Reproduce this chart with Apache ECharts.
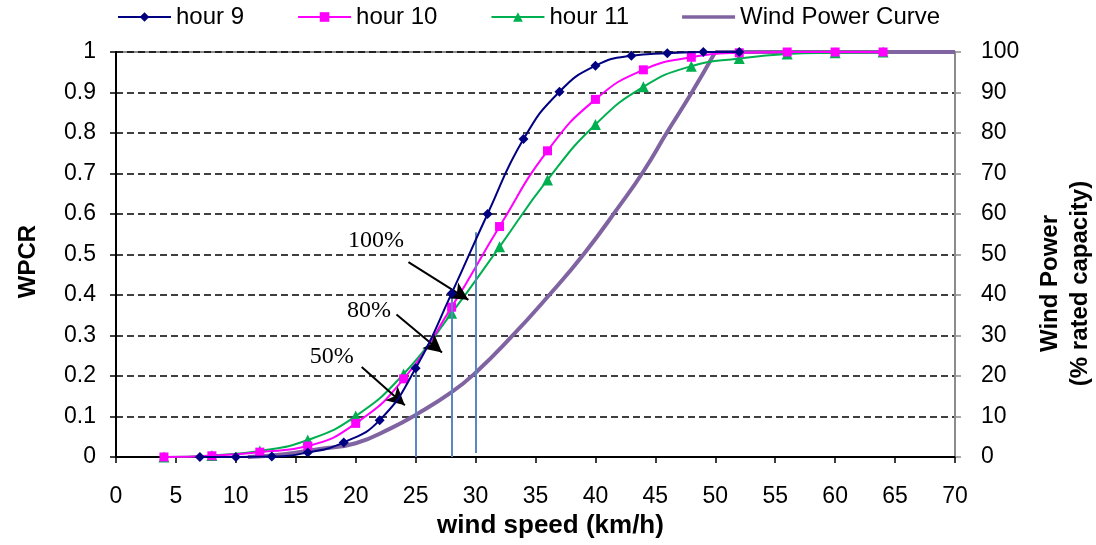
<!DOCTYPE html>
<html>
<head>
<meta charset="utf-8">
<script src="https://cdn.jsdelivr.net/npm/echarts@6/dist/echarts.min.js"></script>
<style>html,body{margin:0;padding:0;background:#fff}#c{width:1096px;height:545px}</style>
</head>
<body>
<div id="c"></div>
<script>
// ---- data ----
const hour9X = [7,10,13,16,19,22,25,28,31,34,37,40,43,46,49,52];
const hour9Y = [0,0,0.001,0.011,0.036,0.091,0.219,0.404,0.6,0.785,0.902,0.966,0.991,0.997,1.0,1.0];
const hour10X = [4,8,12,16,20,24,28,32,36,40,44,48,52,56,60,64];
const hour10Y = [0,0.003,0.012,0.027,0.083,0.193,0.37,0.569,0.756,0.883,0.956,0.987,0.998,1,1,1];
const hour11X = [4,8,12,16,20,24,28,32,36,40,44,48,52,56,60,64];
const hour11Y = [0,0.004,0.015,0.042,0.101,0.205,0.355,0.519,0.684,0.821,0.914,0.965,0.984,0.995,0.998,1];
// wind power curve (% rated capacity): rising part and rated (flat) part
const windRiseX = [11,14,17,20,23,25,28,30,33,36,39,42,44,46,48,50];
const windRiseY = [0,0.7,2,3.4,7.2,10.4,16,20.8,29.7,39.5,50,62,70.5,80.3,89.8,100];
const windRatedX = [50,70];
const windRatedY = [100,100];
// vertical reference lines: [x, yFrom, yTo]
const refLines = [[25,0,0.219],[28,0,0.404],[30,0.01,0.555]];
// annotation arrows: [label, labelX, labelY, fromX, fromY, toX, toY]
const arrows = [
  ['100%', 21.7, 0.533, 24.4, 0.481, 29.4, 0.388],
  ['80%',  21.1, 0.362, 23.4, 0.352, 27.2, 0.258],
  ['50%',  18.0, 0.248, 20.5, 0.222, 24.1, 0.128]
];
const legendNames = ['hour 9','hour 10','hour 11','Wind Power Curve'];

const zip = (xs, ys) => xs.map((x, i) => [x, ys[i]]);
const FONT = 'Liberation Sans, Arial, sans-serif';
const SERIF = 'Liberation Serif, Times New Roman, serif';
const PURPLE = '#8064A2';

const chart = echarts.init(document.getElementById('c'), null, {renderer: 'canvas'});
const option = {
  animation: false,
  backgroundColor: '#fff',
  textStyle: {fontFamily: FONT},
  legend: {
    data: legendNames.map(n => n === 'Wind Power Curve'
      ? {name: n, icon: 'path://M0,0L0,0M0,4.2L53,4.2L53,7.8L0,7.8ZM53,12L53,12'}
      : {name: n}),
    left: 112, top: 0,
    itemWidth: 53, itemHeight: 12, itemGap: 53,
    textStyle: {fontSize: 24, color: '#000', fontFamily: FONT}
  },
  grid: {left: 116, right: 141, top: 52, bottom: 88, show: true, borderColor: '#8c8c8c', borderWidth: 2, outerBoundsMode: 'none', containLabel: false},
  xAxis: {
    type: 'value', min: 0, max: 70, interval: 5,
    name: 'wind speed (km/h)', nameLocation: 'middle', nameGap: 56,
    nameTextStyle: {fontSize: 26, fontWeight: 'bold', color: '#000', fontFamily: FONT, padding: [0, 0, 0, 30]},
    axisLine: {show: true, lineStyle: {color: '#000', width: 2}},
    axisTick: {show: true, inside: false, length: 6, lineStyle: {color: '#000', width: 1.5}},
    axisLabel: {fontSize: 23, color: '#000', margin: 28, fontFamily: FONT},
    splitLine: {show: false}
  },
  yAxis: [
    {
      type: 'value', min: 0, max: 1, interval: 0.1,
      name: 'WPCR', nameLocation: 'middle', nameGap: 76, nameRotate: 90,
      nameTextStyle: {fontSize: 24, fontWeight: 'bold', color: '#000', fontFamily: FONT, padding: [0, 14, 0, 0]},
      axisLine: {show: true, lineStyle: {color: '#000', width: 2}},
      axisTick: {show: true, length: 6, lineStyle: {color: '#000', width: 1.5}},
      axisLabel: {fontSize: 23, color: '#000', margin: 20, fontFamily: FONT},
      splitLine: {show: true, lineStyle: {color: '#000', type: [7, 4], width: 1.5}}
    },
    {
      type: 'value', min: 0, max: 100, interval: 10, position: 'right',
      name: 'Wind Power\n(% rated capacity)', nameLocation: 'middle', nameGap: 80, nameRotate: 90,
      nameTextStyle: {fontSize: 24, fontWeight: 'bold', color: '#000', lineHeight: 30, fontFamily: FONT, padding: [0, 58, 0, 0]},
      axisLine: {show: true, lineStyle: {color: '#8c8c8c', width: 2}},
      axisTick: {show: true, length: 6, lineStyle: {color: '#8c8c8c', width: 1.5}},
      axisLabel: {fontSize: 23, color: '#000', margin: 26, fontFamily: FONT},
      splitLine: {show: false}
    }
  ],
  series: [
    {
      name: 'Wind Power Curve', type: 'line', yAxisIndex: 1, data: zip(windRiseX, windRiseY),
      smooth: true, showSymbol: false, symbol: 'none',
      lineStyle: {color: PURPLE, width: 4}, itemStyle: {color: PURPLE}, z: 2
    },
    {
      name: 'Wind Power Curve', type: 'line', yAxisIndex: 1, data: zip(windRatedX, windRatedY),
      smooth: false, showSymbol: false, symbol: 'none',
      lineStyle: {color: PURPLE, width: 4}, itemStyle: {color: PURPLE}, z: 2
    },
    {
      name: 'hour 11', type: 'line', data: zip(hour11X, hour11Y),
      smooth: true, symbol: 'triangle', symbolSize: 11,
      lineStyle: {color: '#00B050', width: 2}, itemStyle: {color: '#00B050'}, z: 3
    },
    {
      name: 'hour 10', type: 'line', data: zip(hour10X, hour10Y),
      smooth: true, symbol: 'rect', symbolSize: 9,
      lineStyle: {color: '#FF00FF', width: 2}, itemStyle: {color: '#FF00FF'}, z: 4
    },
    {
      name: 'hour 9', type: 'line', data: zip(hour9X, hour9Y),
      smooth: true, symbol: 'diamond', symbolSize: 10,
      lineStyle: {color: '#000080', width: 2}, itemStyle: {color: '#000080'}, z: 5
    },
    {
      name: 'refs', type: 'line', data: [], z: 6,
      markLine: {
        silent: true, symbol: ['none', 'none'],
        label: {show: false},
        lineStyle: {color: '#5B87C4', width: 2, type: 'solid'},
        data: refLines.map(r => [{coord: [r[0], r[1]]}, {coord: [r[0], r[2]]}])
      }
    },
    {
      name: 'arrows', type: 'line', data: [], z: 7,
      markLine: {
        silent: true, symbol: ['none', 'arrow'], symbolSize: [14, 18],
        label: {show: false},
        lineStyle: {color: '#000', width: 2, type: 'solid'},
        data: arrows.map(a => [{coord: [a[3], a[4]]}, {coord: [a[5], a[6]]}])
      },
      markPoint: {
        silent: true, symbol: 'circle', symbolSize: 0,
        label: {show: true, position: 'inside', formatter: '{b}', fontSize: 24, color: '#000', fontFamily: SERIF},
        data: arrows.map(a => ({name: a[0], coord: [a[1], a[2]]}))
      }
    }
  ]
};
chart.setOption(option);
</script>
</body>
</html>
